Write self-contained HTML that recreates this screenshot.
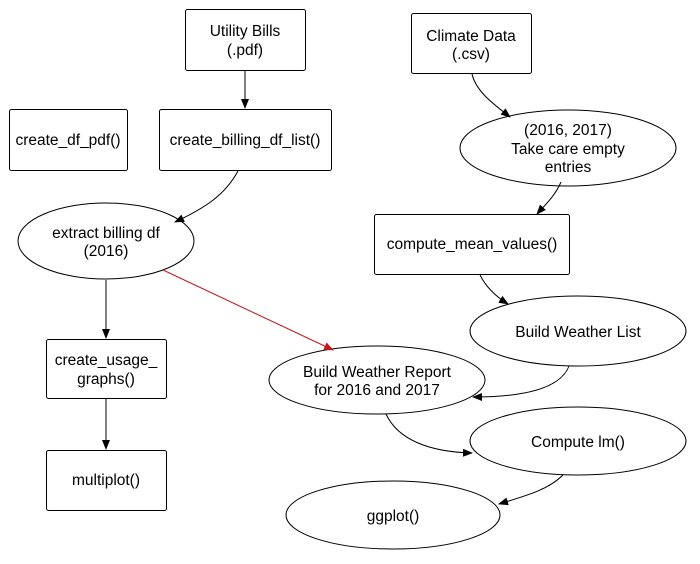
<!DOCTYPE html>
<html><head><meta charset="utf-8"><style>
html,body{margin:0;padding:0;background:#fff;}
svg{display:block;}
text{font-family:"Liberation Sans",sans-serif;font-size:15.5px;fill:#000;text-anchor:middle;}
</style></head><body>
<svg width="700" height="564" viewBox="0 0 700 564">
<defs>
<marker id="a" markerWidth="10" markerHeight="8" refX="9" refY="4" orient="auto" markerUnits="userSpaceOnUse"><path d="M0,0 L10,4 L0,8 z" fill="#000"/></marker>
<marker id="r" markerWidth="10" markerHeight="8" refX="9" refY="4" orient="auto" markerUnits="userSpaceOnUse"><path d="M0,0 L10,4 L0,8 z" fill="#c4161c"/></marker>
</defs>
<g fill="#fff" stroke="#000" stroke-width="1">
<rect x="185.5" y="9.5" width="120" height="61" rx="2"/>
<rect x="411.5" y="13.5" width="120" height="60" rx="2"/>
<rect x="9.5" y="109.5" width="118" height="61" rx="2"/>
<rect x="159.5" y="109.5" width="172" height="61" rx="2"/>
<rect x="374.5" y="214.5" width="195" height="60" rx="2"/>
<rect x="46.5" y="339.5" width="120" height="59" rx="2"/>
<rect x="46.5" y="450.5" width="120" height="60" rx="2"/>
<ellipse cx="106" cy="241" rx="88" ry="38"/>
<ellipse cx="568" cy="148" rx="108" ry="38"/>
<ellipse cx="578" cy="331" rx="108" ry="35"/>
<ellipse cx="377" cy="380" rx="108" ry="34"/>
<ellipse cx="578" cy="441" rx="108" ry="34"/>
<ellipse cx="393" cy="515" rx="107" ry="34"/>
</g>
<g fill="none" stroke="#000" stroke-width="1">
<path d="M245,71 L245,108" marker-end="url(#a)"/>
<path d="M472,74 C476,92 495,105 510,117" marker-end="url(#a)"/>
<path d="M561,182 C555,196 545,205 537,214" marker-end="url(#a)"/>
<path d="M238,171 C225,195 205,208 175,222" marker-end="url(#a)"/>
<path d="M106,280 L106,338" marker-end="url(#a)"/>
<path d="M106,399 L106,449" marker-end="url(#a)"/>
<path d="M480,275 C486,287 495,296 508,304" marker-end="url(#a)"/>
<path d="M569,366 C560,390 520,397 473,397" marker-end="url(#a)"/>
<path d="M386,414 C398,440 430,452 472,453" marker-end="url(#a)"/>
<path d="M563,475 C548,490 525,496 499,504" marker-end="url(#a)"/>
</g>
<path d="M163,270 L333,350" stroke="#c4161c" stroke-width="1" fill="none" marker-end="url(#r)"/>
<text x="245" y="36">Utility Bills</text>
<text x="245" y="55">(.pdf)</text>
<text x="471" y="41">Climate Data</text>
<text x="471" y="59">(.csv)</text>
<text x="68" y="145">create_df_pdf()</text>
<text x="245" y="145">create_billing_df_list()</text>
<text x="106" y="238">extract billing df</text>
<text x="106" y="256">(2016)</text>
<text x="568" y="135">(2016, 2017)</text>
<text x="568" y="154">Take care empty</text>
<text x="568" y="172">entries</text>
<text x="472" y="249">compute_mean_values()</text>
<text x="578" y="337">Build Weather List</text>
<text x="106" y="365">create_usage_</text>
<text x="106" y="384">graphs()</text>
<text x="377" y="377">Build Weather Report</text>
<text x="377" y="395">for 2016 and 2017</text>
<text x="578" y="447">Compute lm()</text>
<text x="106" y="485">multiplot()</text>
<text x="393" y="521">ggplot()</text>
</svg>
</body></html>
